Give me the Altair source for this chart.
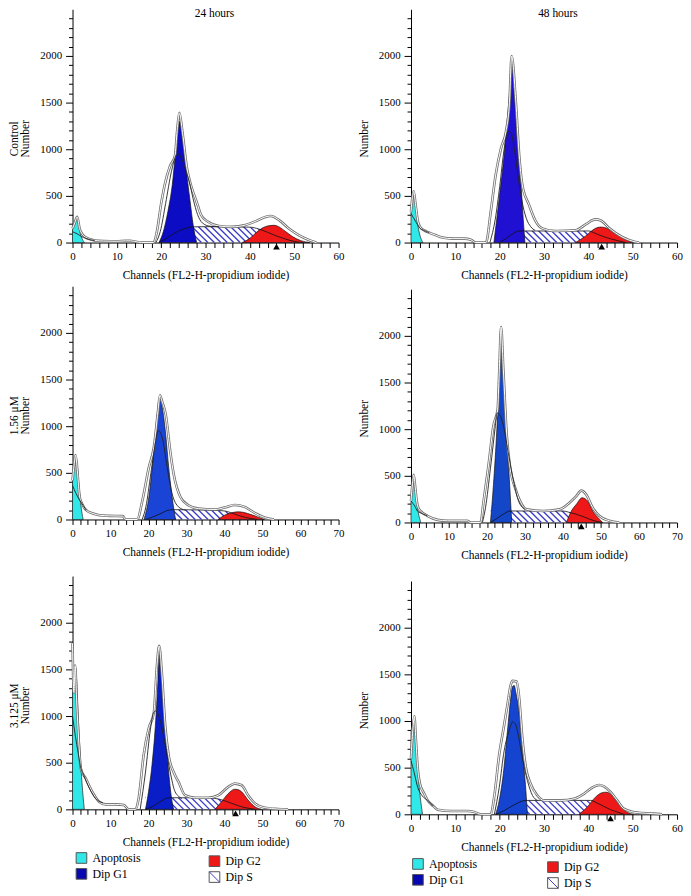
import altair as alt
import numpy as np
import pandas as pd

FONT = "Liberation Serif"
W, H, YMAX = 268, 235, 2500

# ---------------- Control, 24 hours ----------------
C24_ENV = [(0,150),(0.5,210),(1.05,275),(1.6,150),(2.2,90),(3,55),(4,35),(5,22),(7,16),(10,14),(12,18),(13,18),(14,12),(15.6,0),(18.3,0),(19,110),(20,420),(20.8,620),(22,820),(23.1,930),(23.6,1200),(24.1,1390),(24.8,1180),(25.8,800),(26.8,600),(28,435),(29,295),(30.5,225),(33,178),(36,168),(39,188),(41.4,230),(43.5,275),(44.7,285),(46.6,240),(48.8,150),(51,80),(53.3,28),(55,0)]
C24_DEB = [(0,115),(1,95),(2,65),(3,45),(4,30),(5,20)]
C24_BROAD = [(18.8,0),(19.8,120),(21,420),(22.3,760),(23.3,930),(23.8,950),(24.6,900),(25.5,780),(26.4,640),(27.2,470),(28.2,300),(29.3,210),(31,175),(33,170)]
C24_APO = [(0,140),(0.5,210),(1.0,275),(1.5,150),(2,60),(2.7,0)]
C24_G1 = [(19.5,0),(20.5,120),(21.5,330),(22.5,620),(23.2,950),(23.8,1230),(24.1,1300),(24.5,1240),(25,1060),(25.7,760),(26.5,450),(27.2,190),(28,0)]
C24_S = [(19.5,0),(21,40),(23,100),(25,145),(27,168),(30,170),(35,168),(40,165),(42,145),(44,110),(46,70),(48,38),(50,12),(52,0)]
C24_G2 = [(38.3,0),(40,45),(41.5,110),(43,160),(44.5,182),(45.5,185),(46.5,170),(48,120),(49.6,64),(51.5,20),(53.5,0)]
C24_MARK = 46

# ---------------- Control, 48 hours ----------------
C48_ENV = [(0,330),(0.3,480),(0.6,550),(1.0,420),(1.5,240),(2,170),(3,130),(4.1,106),(5.5,80),(7.1,53),(9.4,42),(12,42),(13.5,30),(14.6,0),(16.9,0),(18,336),(19.1,726),(20.3,1009),(21.4,1186),(22.2,1500),(22.7,2000),(23.6,1540),(24.4,938),(25.1,620),(26.6,407),(28.1,230),(29.6,152),(32.6,124),(37.1,131),(39.4,195),(41.6,248),(42.8,237),(44.6,159),(47.6,60),(50.6,7),(51.4,0)]
C48_DEB = [(0,310),(1,230),(1.9,160),(3,128),(4.1,106)]
C48_BROAD = [(17.8,0),(19,250),(20,600),(21,1000),(21.9,1190),(22.6,1170),(23.3,1000),(24,760),(25,450),(26,260),(27,170),(28,130)]
C48_APO = [(0,330),(0.3,480),(0.6,545),(1.0,420),(1.5,200),(2,80),(2.7,0)]
C48_G1 = [(18.7,0),(19.9,478),(21,938),(21.8,1363),(22.4,1717),(22.7,1930),(23.3,1610),(24,1080),(24.8,620),(25.5,124),(25.7,0)]
C48_S = [(19.9,0),(21,30),(22.5,80),(24.4,124),(30,124),(35,124),(40.1,124),(41.5,100),(43,71),(45,40),(46.8,18),(48.4,0)]
C48_G2 = [(37.1,0),(39.4,71),(40.5,115),(41.6,152),(42.8,166),(43.7,160),(44.6,142),(46.9,71),(49.1,18),(50.6,0)]
C48_MARK = 43

# ---------------- 1.56 uM, 24 hours ----------------
L24_ENV = [(0,420),(0.4,580),(0.8,690),(1.2,560),(1.5,400),(1.9,240),(2.5,170),(3.6,100),(5.4,64),(7.1,46),(9.7,39),(13.2,36),(14,0),(17,0),(18.4,206),(20.1,561),(21.4,774),(22.5,1165),(23,1332),(23.6,1260),(24.5,1130),(25.8,703),(26.6,490),(28.4,241),(30.5,153),(33.1,117),(37.5,107),(40,128),(42.7,156),(45.3,135),(47.9,71),(50.5,21),(53,0)]
L24_DEB = [(0,366),(0.9,280),(1.9,206),(2.8,150),(3.6,100)]
L24_BROAD = [(18.3,0),(19.3,135),(20.6,490),(21.9,845),(22.5,955),(23.6,880),(24.9,560),(26.2,277),(27.9,135),(29.7,100)]
L24_APO = [(0,450),(0.4,580),(0.8,650),(1.2,600),(1.6,400),(2.2,150),(2.8,0)]
L24_G1 = [(18.8,0),(20.1,241),(21.4,739),(22.3,1130),(22.9,1290),(23.6,1200),(24.5,916),(25.3,561),(26.2,241),(27.1,0)]
L24_S = [(19.3,0),(21,25),(23,60),(25.3,100),(27,105),(32,103),(36,100),(40,92),(41.5,75),(43.5,46),(45.5,22),(47,11),(48.7,0)]
L24_G2 = [(38.3,0),(40,46),(41.8,71),(43.5,82),(44.8,78),(46.1,64),(48.7,28),(50.5,0)]

# ---------------- 1.56 uM, 48 hours ----------------
L48_ENV = [(0,230),(0.4,420),(0.7,510),(1.1,380),(1.5,230),(2,150),(3,105),(4.3,72),(7,28),(9.6,18),(14.8,18),(15.7,0),(18.3,0),(19.1,229),(20.4,616),(21.7,1039),(22.8,1215),(23.2,1600),(23.7,2095),(24.3,1637),(25.2,933),(26.1,581),(27.4,370),(28.7,229),(30.4,141),(34.8,123),(39.1,141),(41.7,211),(43.5,282),(44.8,341),(46.1,299),(47.8,158),(49.6,70),(52.2,18),(54.8,0)]
L48_DEB = [(0,229),(1,175),(1.7,123),(3,95),(4.3,70)]
L48_BROAD = [(18.8,0),(19.6,158),(20.9,581),(22.2,1039),(22.6,1172),(23.4,1150),(24.3,1039),(25.7,722),(27,440),(28.3,229),(30,141)]
L48_APO = [(0,230),(0.4,420),(0.7,510),(1.1,380),(1.7,160),(2.6,0)]
L48_G1 = [(20.9,0),(21.7,405),(22.6,1004),(23.2,1500),(23.7,2025),(24.3,1637),(25.2,933),(26.1,299),(26.5,0)]
L48_S = [(20.9,0),(22.5,40),(24.5,95),(26.1,123),(30,123),(35,123),(40,123),(41.5,110),(43.5,88),(45.5,60),(47,35),(48.5,15),(50.4,0)]
L48_G2 = [(40.9,0),(42.2,123),(43.5,194),(45,265),(46.5,229),(47.8,123),(49.6,35),(50.4,0)]
L48_MARK = 44.8

# ---------------- 3.125 uM, 24 hours ----------------
H24_ENV = [(0,1780),(0.35,1250),(0.7,1540),(1.1,1150),(1.6,754),(2.2,435),(3.5,329),(5.2,188),(7,81),(8.7,53),(11.3,53),(13.5,46),(14.8,0),(16.6,0),(17.4,117),(18.7,577),(20,860),(21.4,1037),(22.2,1533),(22.8,1752),(23.5,1462),(24.4,896),(25.3,577),(26.6,400),(27.9,294),(29.6,152),(32.3,124),(35.7,124),(38.4,152),(41,241),(42.7,276),(44.5,258),(46.2,152),(48,64),(50.6,18),(54,4),(56.7,0)]
H24_DEB = [(0,1000),(0.7,800),(1.5,600),(2.2,440),(3,360),(4.5,220),(6,120),(8,70)]
H24_BROAD = [(17.8,0),(19.2,400),(20.5,860),(21.3,1030),(21.8,1055),(22.4,1030),(23.1,949),(24.4,683),(25.7,400),(27,188),(28.8,117)]
H24_APO = [(0,1380),(0.4,1450),(0.7,1500),(1.1,1380),(1.5,1000),(2,600),(2.5,280),(3.1,0)]
H24_G1 = [(19.2,0),(20,188),(20.9,471),(21.8,896),(22.5,1391),(22.9,1730),(23.5,1462),(24.4,896),(25.3,400),(26.2,81),(26.6,0)]
H24_S = [(19.2,0),(21,30),(23,80),(25.3,124),(30,124),(36,122),(38.5,110),(40.5,85),(42.5,55),(44.5,28),(46.5,10),(48,0)]
H24_G2 = [(37.5,0),(39.2,81),(41,170),(42.7,216),(43.5,212),(44.5,188),(46.2,99),(48,28),(49.7,0)]
H24_MARK = 42.9

# ---------------- 3.125 uM, 48 hours ----------------
H48_ENV = [(0,600),(0.4,900),(0.75,1050),(1.1,800),(1.5,500),(2,330),(3,220),(3.75,149),(5,90),(6,50),(9,35),(12.75,35),(14.25,25),(15.75,0),(18,0),(18.75,184),(19.9,644),(20.9,927),(21.75,1175),(22.5,1388),(22.9,1430),(23.85,1423),(24.4,1246),(25.1,821),(25.9,503),(27,326),(28.5,202),(30,149),(33.75,149),(36.75,166),(39,220),(41,290),(42.5,315),(43.5,300),(45,240),(46.5,150),(48,60),(51,18),(54.75,7),(56.6,0)]
H48_DEB = [(0,573),(0.7,450),(1.5,290),(2.5,200),(3.75,149),(5,90)]
H48_BROAD = [(18.8,0),(19.9,290),(21,680),(22.1,892),(22.9,991),(23.6,960),(24,892),(25.1,609),(26.25,361),(27.4,202),(28.5,149)]
H48_APO = [(0,900),(0.4,960),(0.75,1000),(1.1,800),(1.6,420),(2.1,180),(2.6,0)]
H48_G1 = [(19.1,0),(19.9,149),(20.9,467),(21.75,892),(22.5,1246),(22.9,1370),(23.3,1380),(23.6,1317),(24.4,1069),(25.1,680),(25.9,255),(26.25,0)]
H48_S = [(19.1,0),(21,40),(23,95),(25.9,149),(30,149),(35,149),(40.5,149),(42,120),(43.5,85),(45,50),(46.5,25),(48,0)]
H48_G2 = [(37.9,0),(39.75,78),(41.6,184),(43,230),(43.9,237),(45,219),(46.5,131),(48,50),(49.5,7),(50.25,0)]
H48_MARK = 45

# ---------------- legend ----------------
LEG_NAMES = ["Apoptosis", "Dip G2", "Dip G1", "Dip S"]
LEG_COLORS = ["#30e8e8", "#ee1818", "#0808b0", "#ffffff"]
LEG_COL = [0, 1, 0, 1]
LEG_ROW = [0, 0, 1, 1]

APO_COLOR = "#30e8e8"
G2_COLOR = "#ee1818"
HATCH_COLOR = "#3a3ac8"


def frame(points):
    return pd.DataFrame(points, columns=["x", "y"])


def panel(xmax, env, deb, broad, apo, g1, s, g2, mark, g1_color, ytitle,
          title=None, title_dx=0):
    xscale = alt.Scale(domain=[0, xmax], nice=False, zero=False)
    yscale = alt.Scale(domain=[0, YMAX], nice=False)
    xaxis = alt.Axis(values=list(range(0, xmax + 1, 2)),
                     labelExpr="datum.value % 10 === 0 ? datum.label : ''",
                     format="d", tickSize=5, labelPadding=3, labelFlush=False,
                     labelOverlap=False, title="Channels (FL2-H-propidium iodide)",
                     titlePadding=8, grid=False, labelFont=FONT, titleFont=FONT)
    yaxis = alt.Axis(values=list(range(0, 2401, 100)),
                     labelExpr="datum.value % 500 === 0 ? datum.label : ''",
                     format="d",
                     tickSize={"condition": {"test": "datum.value % 500 === 0", "value": 7}, "value": 4},
                     labelPadding=4, labelOverlap=False, title=ytitle,
                     titlePadding=9, titleY=130, titleLineHeight=11, grid=False,
                     labelFont=FONT, titleFont=FONT)
    X = alt.X("x:Q", scale=xscale, axis=xaxis)
    Y = alt.Y("y:Q", scale=yscale, axis=yaxis)

    sdf = frame(s)
    htop = float(sdf.y.max()) + 8
    pxx = W / xmax
    pxy = H / YMAX
    w = htop * pxy / pxx
    step = 6.5 / pxx
    starts = np.arange(sdf.x.min(), sdf.x.max() - w, step)
    hatch = pd.DataFrame({"x": starts, "x2": starts + w, "y": htop, "y2": 0.0})
    mask = sdf.assign(y2=htop + 12)

    layers = []
    layers.append(alt.Chart(hatch).mark_rule(color=HATCH_COLOR, strokeWidth=1.3).encode(
        x=X, x2="x2:Q", y=Y, y2="y2:Q"))
    layers.append(alt.Chart(mask).mark_area(color="white", interpolate="monotone").encode(
        x=X, y=Y, y2="y2:Q"))
    layers.append(alt.Chart(frame(apo)).mark_area(color=APO_COLOR, stroke="#222", strokeWidth=0.7,
                                                  interpolate="monotone").encode(x=X, y=Y))
    layers.append(alt.Chart(frame(g1)).mark_area(color=g1_color, stroke="#111", strokeWidth=0.7,
                                                 interpolate="monotone").encode(x=X, y=Y))
    layers.append(alt.Chart(frame(g2)).mark_area(color=G2_COLOR, stroke="#111", strokeWidth=0.7,
                                                 interpolate="monotone").encode(x=X, y=Y))
    layers.append(alt.Chart(sdf).mark_line(color="#111", strokeWidth=0.8,
                                           interpolate="monotone").encode(x=X, y=Y))
    layers.append(alt.Chart(frame(env)).mark_line(color="#707070", strokeWidth=2.6,
                                                  interpolate="monotone").encode(x=X, y=Y))
    layers.append(alt.Chart(frame(env)).mark_line(color="white", strokeWidth=1.0,
                                                  interpolate="monotone").encode(x=X, y=Y))
    layers.append(alt.Chart(frame(deb)).mark_line(color="#222", strokeWidth=0.9,
                                                  interpolate="monotone").encode(x=X, y=Y))
    layers.append(alt.Chart(frame(broad)).mark_line(color="#222", strokeWidth=0.9,
                                                    interpolate="monotone").encode(x=X, y=Y))
    if mark is not None:
        layers.append(alt.Chart(pd.DataFrame({"x": [mark], "y": [0]})).mark_point(
            shape="triangle-up", filled=True, color="black", size=45, opacity=1, yOffset=4
        ).encode(x=X, y=Y))

    props = dict(width=W, height=H)
    if title is not None:
        props["title"] = alt.TitleParams(text=title, baseline="middle", offset=-16, dx=title_dx,
                                         anchor="middle", font=FONT, fontSize=11.5,
                                         fontWeight="normal", color="black")
    return alt.layer(*layers).properties(**props)


def legend_chart(xa, xb, ya, yb):
    df = pd.DataFrame({"name": LEG_NAMES, "col": LEG_COL, "row": LEG_ROW})
    base = alt.Chart(df).transform_calculate(ry="datum.row + datum.col * 0.2").encode(
        x=alt.X("col:Q", scale=alt.Scale(domain=[0, 1], range=[xa, xb]), axis=None),
        y=alt.Y("ry:Q", scale=alt.Scale(domain=[0, 1], range=[ya, yb]), axis=None))
    sq = base.mark_square(size=115, stroke="#555", strokeWidth=1, opacity=1).encode(
        fill=alt.Fill("name:N", scale=alt.Scale(domain=LEG_NAMES, range=LEG_COLORS), legend=None))
    diag = base.transform_filter("datum.name === 'Dip S'").mark_point(
        shape="M-1,-1L1,1", size=115, stroke="#4040b0", strokeWidth=1, filled=False, opacity=1)
    txt = base.mark_text(align="left", dx=11, baseline="middle", font=FONT, fontSize=12,
                         color="black").encode(text="name:N")
    return alt.layer(sq, diag, txt).properties(width=268, height=34)


p_c24 = panel(60, C24_ENV, C24_DEB, C24_BROAD, C24_APO, C24_G1, C24_S, C24_G2, C24_MARK,
              "#0c0cc4", ["Control", "Number"], title="24 hours", title_dx=9)
p_l24 = panel(70, L24_ENV, L24_DEB, L24_BROAD, L24_APO, L24_G1, L24_S, L24_G2, None,
              "#1a44d6", ["1.56 \u03bcM", "Number"])
p_h24 = panel(70, H24_ENV, H24_DEB, H24_BROAD, H24_APO, H24_G1, H24_S, H24_G2, H24_MARK,
              "#0a1ec8", ["3.125 \u03bcM", "Number"])

p_c48 = panel(60, C48_ENV, C48_DEB, C48_BROAD, C48_APO, C48_G1, C48_S, C48_G2, C48_MARK,
              "#2010d2", "Number", title="48 hours", title_dx=14)
p_l48 = panel(70, L48_ENV, L48_DEB, L48_BROAD, L48_APO, L48_G1, L48_S, L48_G2, L48_MARK,
              "#1446c8", "Number")
p_h48 = panel(60, H48_ENV, H48_DEB, H48_BROAD, H48_APO, H48_G1, H48_S, H48_G2, H48_MARK,
              "#1444d0", "Number")

left = alt.vconcat(alt.vconcat(p_c24, p_l24, spacing=4),
                   alt.vconcat(p_h24, legend_chart(9, 143, 8, 24), spacing=1),
                   spacing=17)
right = alt.vconcat(alt.vconcat(p_c48, p_l48, spacing=7),
                    alt.vconcat(p_h48, legend_chart(7, 143, 9, 25), spacing=1),
                    spacing=19)

chart = alt.hconcat(left, right, spacing=13).properties(
    padding={"left": 0, "top": -4, "right": 0, "bottom": 0}
).configure_view(stroke="transparent").configure_axis(
    domainColor="black", tickColor="black", labelColor="black", titleColor="black",
    labelFont=FONT, titleFont=FONT, labelFontSize=11, titleFontSize=11.5,
    titleFontWeight="normal", domainWidth=1, tickWidth=1
)

chart.save("out.html", embed_options={"renderer": "svg", "actions": False})
